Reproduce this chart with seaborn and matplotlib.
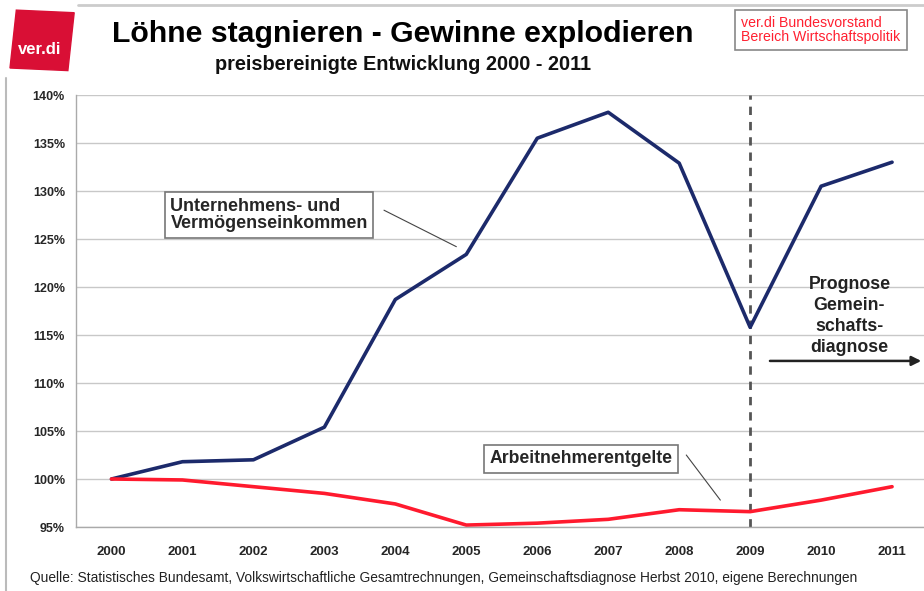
import pandas as pd
import matplotlib.pyplot as plt
import matplotlib.patches as mpatches
import seaborn as sns

years = ['2000', '2001', '2002', '2003', '2004', '2005',
         '2006', '2007', '2008', '2009', '2010', '2011']
gewinne = [100.0, 101.8, 102.0, 105.4, 118.7, 123.4,
           135.5, 138.2, 132.9, 115.8, 130.5, 133.0]
loehne = [100.0, 99.9, 99.2, 98.5, 97.4, 95.2,
          95.4, 95.8, 96.8, 96.6, 97.8, 99.2]
series_names = ['Unternehmens- und\nVermögenseinkommen', 'Arbeitnehmerentgelte']
yticks = [95, 100, 105, 110, 115, 120, 125, 130, 135, 140]

df = pd.DataFrame({
    'pos': list(range(len(years))) * 2,
    'wert': gewinne + loehne,
    'reihe': [series_names[0]] * len(years) + [series_names[1]] * len(years),
})

sns.set_style('white')
plt.rcParams['font.family'] = ['Liberation Sans', 'DejaVu Sans']

fig = plt.figure(figsize=(9.24, 5.91), dpi=100)
W, H = 924, 591
ax = fig.add_axes([76 / W, 1 - 527 / H, (924 - 76) / W, (527 - 95) / H])

# Chart lines
sns.lineplot(data=df, x='pos', y='wert', hue='reihe',
             palette=['#1c2a6b', '#ff1a2e'], linewidth=2.6,
             legend=False, ax=ax)

ax.set_xlim(-0.5, 11.45)
ax.set_ylim(95, 140)
ax.set_yticks(yticks)
ax.set_yticklabels([f'{v}%' for v in yticks], fontsize=9, fontweight='bold')
ax.set_xticks(range(len(years)))
ax.set_xticklabels(years, fontsize=9.5, fontweight='bold')
ax.set_xticks([i - 0.5 for i in range(1, len(years))], minor=True)
ax.tick_params(axis='x', which='major', length=0, pad=14)
ax.tick_params(axis='x', which='minor', length=4, color='#999999', direction='out')
ax.tick_params(axis='y', length=4, color='#999999', pad=4)
ax.set_xlabel('')
ax.set_ylabel('')
ax.grid(axis='y', color='#c8c8c8', linewidth=1)
ax.set_axisbelow(True)
for side in ['top', 'right']:
    ax.spines[side].set_visible(False)
for side in ['left', 'bottom']:
    ax.spines[side].set_color('#aaaaaa')
    ax.spines[side].set_linewidth(1)

# Forecast marker
ax.axvline(9, color='#555555', linestyle=(0, (3, 2.5)), linewidth=2, zorder=1)
ax.annotate('', xy=(11.45, 112.3), xytext=(9.24, 112.3),
            arrowprops=dict(arrowstyle='-|>', color='#222222', lw=1.8,
                            mutation_scale=14), annotation_clip=False)
ax.text(10.4, 116.95, 'Prognose\nGemein-\nschafts-\ndiagnose', ha='center', va='center',
        fontsize=12.8, fontweight='bold', color='#222222', linespacing=1.3)

# Series labels
box = dict(boxstyle='square,pad=0.3', fc='white', ec='#777777', lw=1.2)
ax.text(0.83, 127.5, series_names[0], fontsize=13, fontweight='bold',
        va='center', ha='left', bbox=box, linespacing=1.05)
ax.plot([3.84, 4.86], [128.0, 124.2], color='#444444', lw=0.8)
ax.text(5.33, 102.1, series_names[1], fontsize=12.7, fontweight='bold',
        va='center', ha='left', bbox=box)
ax.plot([8.1, 8.58], [102.5, 97.8], color='#444444', lw=0.8)

# Header
fig.text(403 / W, 1 - 34 / H, 'Löhne stagnieren - Gewinne explodieren',
         ha='center', va='center', fontsize=21.8, fontweight='bold', color='black')
fig.text(403 / W, 1 - 65 / H, 'preisbereinigte Entwicklung 2000 - 2011',
         ha='center', va='center', fontsize=14.3, fontweight='bold', color='#111111')
fig.text(741 / W, 1 - 30 / H, 'ver.di Bundesvorstand\nBereich Wirtschaftspolitik',
         ha='left', va='center', fontsize=10.2, color='#ff2030', linespacing=1.0,
         bbox=dict(boxstyle='square,pad=0.45', fc='white', ec='#888888', lw=1.2))

# Logo
logo = mpatches.Rectangle((10 / W, 1 - 68 / H), 58 / W, 58 / H, angle=-4,
                          transform=fig.transFigure, color='#d90f35', zorder=0)
fig.patches.append(logo)
fig.text(40 / W, 1 - 50 / H, 'ver.di', ha='center', va='center',
         fontsize=12, fontweight='bold', color='white')

# Frame lines
fig.add_artist(plt.Line2D([78 / W, 1], [1 - 5 / H, 1 - 5 / H], transform=fig.transFigure,
                          color='#cccccc', lw=2))
fig.add_artist(plt.Line2D([6 / W, 6 / W], [0, 1 - 78 / H], transform=fig.transFigure,
                          color='#bbbbbb', lw=1.5))

# Source
fig.text(30 / W, 1 - 578 / H,
         'Quelle: Statistisches Bundesamt, Volkswirtschaftliche Gesamtrechnungen, '
         'Gemeinschaftsdiagnose Herbst 2010, eigene Berechnungen',
         ha='left', va='center', fontsize=9.9, color='#222222')

fig.savefig('out.png', dpi=100)
